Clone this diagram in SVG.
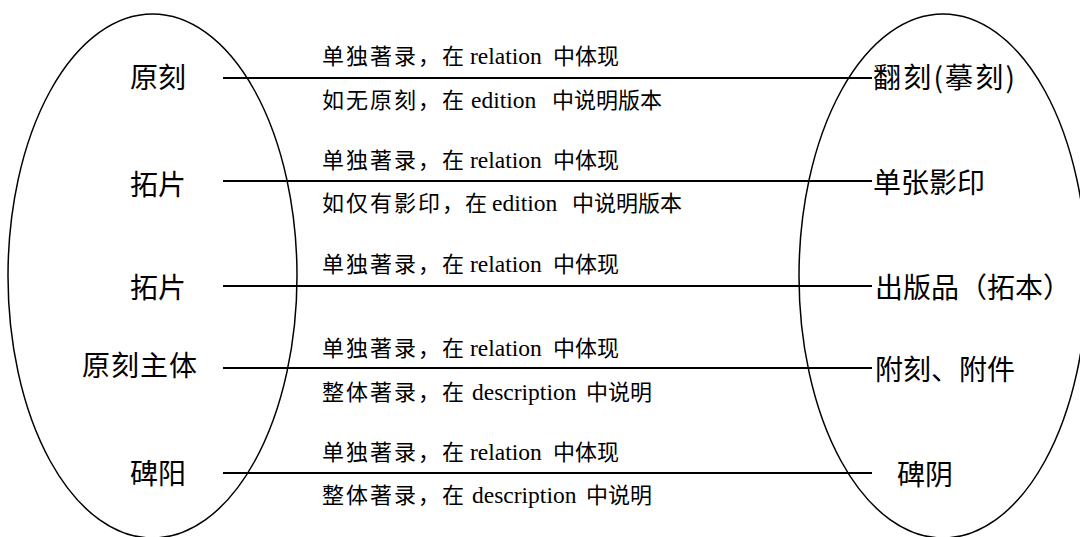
<svg xmlns="http://www.w3.org/2000/svg" width="1080" height="537" viewBox="0 0 1080 537">
  <style>
    .ell { fill: none; stroke: #000; stroke-width: 1.5; }
    .conn { stroke: #000; stroke-width: 2; }
    .big { font-family: "Noto Sans CJK SC", "Liberation Serif", sans-serif; font-size: 28px; fill: #000; }
    .lbl { font-family: "Liberation Serif", "Noto Sans CJK SC", serif; font-size: 22px; fill: #000; }
    .pre { letter-spacing: 2px; }
    .lat { font-family: "Liberation Serif", serif; font-size: 23.5px; }
  </style>
  <rect width="1080" height="537" fill="#fff"/>

  <g id="left-set">
    <ellipse class="ell" cx="152.5" cy="276" rx="144.5" ry="262"/>
  </g>
  <g id="right-set">
    <ellipse class="ell" cx="943" cy="276" rx="144" ry="262"/>
  </g>

  <g id="connectors">
    <line class="conn" x1="223" y1="78" x2="872" y2="78"/>
    <line class="conn" x1="223" y1="181" x2="872" y2="181"/>
    <line class="conn" x1="223" y1="286" x2="872" y2="286"/>
    <line class="conn" x1="223" y1="368" x2="872" y2="368"/>
    <line class="conn" x1="223" y1="473" x2="872" y2="473"/>
  </g>

  <g id="connector-labels">
    <text class="lbl" y="63.5"><tspan class="pre" x="322">单独著录，</tspan><tspan x="442">在</tspan><tspan class="lat" x="470">relation</tspan><tspan x="553">中体现</tspan></text>
    <text class="lbl" y="108"><tspan class="pre" x="322">如无原刻，</tspan><tspan x="442">在</tspan><tspan class="lat" x="471">edition</tspan><tspan x="552">中说明版本</tspan></text>

    <text class="lbl" y="168"><tspan class="pre" x="322">单独著录，</tspan><tspan x="442">在</tspan><tspan class="lat" x="470">relation</tspan><tspan x="553">中体现</tspan></text>
    <text class="lbl" y="211"><tspan class="pre" x="322">如仅有影印，</tspan><tspan x="465">在</tspan><tspan class="lat" x="492">edition</tspan><tspan x="572">中说明版本</tspan></text>

    <text class="lbl" y="272"><tspan class="pre" x="322">单独著录，</tspan><tspan x="442">在</tspan><tspan class="lat" x="470">relation</tspan><tspan x="553">中体现</tspan></text>

    <text class="lbl" y="356"><tspan class="pre" x="322">单独著录，</tspan><tspan x="442">在</tspan><tspan class="lat" x="470">relation</tspan><tspan x="553">中体现</tspan></text>
    <text class="lbl" y="400"><tspan class="pre" x="322">整体著录，</tspan><tspan x="442">在</tspan><tspan class="lat" x="472">description</tspan><tspan x="586">中说明</tspan></text>

    <text class="lbl" y="460"><tspan class="pre" x="322">单独著录，</tspan><tspan x="442">在</tspan><tspan class="lat" x="470">relation</tspan><tspan x="553">中体现</tspan></text>
    <text class="lbl" y="503"><tspan class="pre" x="322">整体著录，</tspan><tspan x="442">在</tspan><tspan class="lat" x="472">description</tspan><tspan x="586">中说明</tspan></text>
  </g>

  <g id="node-yuanke"><text class="big" x="130" y="88">原刻</text></g>
  <g id="node-tapian-1"><text class="big" x="130" y="195">拓片</text></g>
  <g id="node-tapian-2"><text class="big" x="130" y="298">拓片</text></g>
  <g id="node-yuanke-zhuti"><text class="big" x="82" y="376" letter-spacing="1">原刻主体</text></g>
  <g id="node-beiyang"><text class="big" x="130" y="484">碑阳</text></g>

  <g id="node-fanke"><text class="big" x="873" y="88" textLength="142" lengthAdjust="spacing">翻刻(摹刻)</text></g>
  <g id="node-danzhang"><text class="big" x="873" y="193">单张影印</text></g>
  <g id="node-chubanpin"><text class="big" x="875" y="298">出版品（拓本）</text></g>
  <g id="node-fuke"><text class="big" x="875" y="380">附刻、附件</text></g>
  <g id="node-beiyin"><text class="big" x="897" y="485">碑阴</text></g>
</svg>
